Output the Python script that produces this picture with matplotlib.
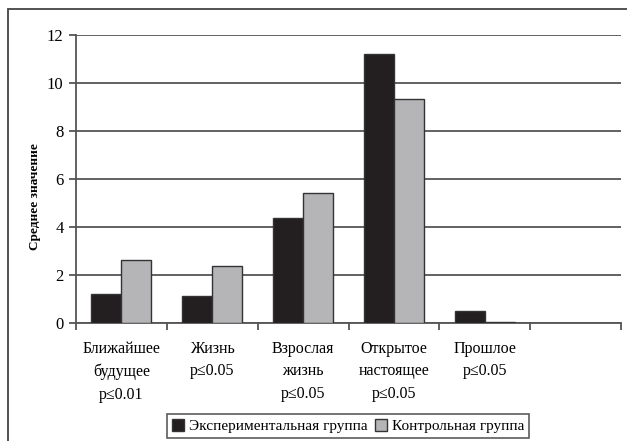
import matplotlib
matplotlib.use("Agg")
import matplotlib.pyplot as plt
import numpy as np
from matplotlib.patches import Rectangle

categories = ["Ближайшее\nбудущее\np≤0.01", "Жизнь\np≤0.05", "Взрослая\nжизнь\np≤0.05",
              "Открытое\nнастоящее\np≤0.05", "Прошлое\np≤0.05", ""]
exp_vals = [1.2, 1.11, 4.36, 11.22, 0.47, 0.0]
ctrl_vals = [2.63, 2.38, 5.43, 9.31, 0.04, 0.0]
series_names = ["Экспериментальная группа", "Контрольная группа"]
yticks = [0, 2, 4, 6, 8, 10, 12]

plt.rcParams['font.family'] = ['Liberation Serif', 'DejaVu Serif']

fig = plt.figure(figsize=(6.27, 4.41), dpi=100)
ax = fig.add_axes([76/627, (441-322.7)/441, (621-76)/627, (322.7-35)/441])

n = len(categories) - 1
x = np.arange(n)
w = 30/91
ax.bar(x - w/2, exp_vals[:n], width=w, color="#231f20", edgecolor="#333333", linewidth=1.0,
       label=series_names[0], zorder=3)
ax.bar(x + w/2, ctrl_vals[:n], width=w, color="#b5b5b7", edgecolor="#333333", linewidth=1.0,
       label=series_names[1], zorder=3)

ax.set_xlim(-0.5, len(categories) - 0.5)
ax.set_ylim(0, 12)
ax.set_yticks(yticks)
ax.set_yticklabels([str(t) for t in yticks], fontsize=12)
ax.yaxis.grid(True, color="#555555", linewidth=1.3, zorder=0)
ax.set_axisbelow(True)

ax.set_xticks(np.arange(len(categories)))
ax.set_xticklabels(categories, fontsize=11.5, linespacing=1.55)
ax.tick_params(axis='x', length=0, pad=13)
ax.set_xticks(np.arange(len(categories) + 1) - 0.5, minor=True)
ax.tick_params(axis='x', which='minor', length=5, width=1.3, color="#555555", direction='out')
ax.tick_params(axis='y', length=5, width=1.3, color="#555555", pad=4)

for s in ['top', 'right']:
    ax.spines[s].set_visible(False)
for s in ['left', 'bottom']:
    ax.spines[s].set_color("#555555")
    ax.spines[s].set_linewidth(1.3)

fig.text(35/627, (441-197)/441, "Среднее значение", rotation=90, fontsize=9.5,
         fontweight='bold', ha='center', va='center')

leg = fig.legend(loc='center', bbox_to_anchor=(348/627, (441-426)/441), ncol=2, fontsize=11,
                 frameon=True, fancybox=False, edgecolor="#333333", handlelength=0.8,
                 handleheight=0.8, handletextpad=0.3, columnspacing=0.5, borderpad=0.3,
                 borderaxespad=0)
leg.get_frame().set_linewidth(1.2)

fig.patches.append(Rectangle((8/627, -0.02), 1.0, (441-9)/441 + 0.02, transform=fig.transFigure,
                             fill=False, edgecolor="#444444", linewidth=1.3))

fig.savefig("out.png", dpi=100)
